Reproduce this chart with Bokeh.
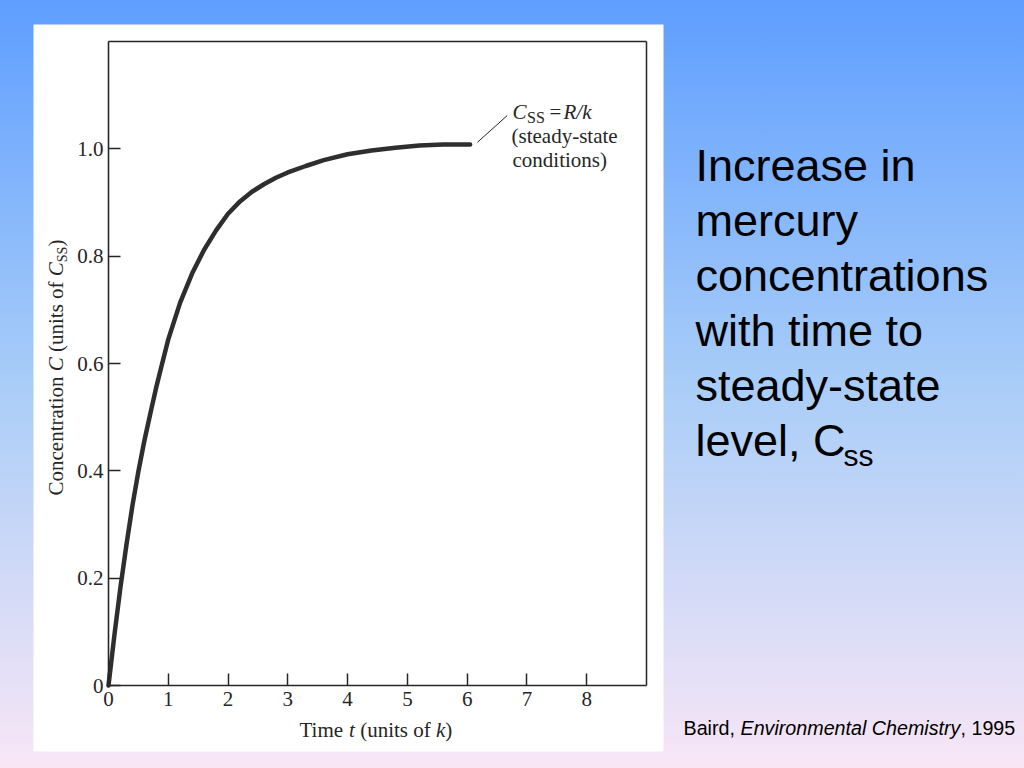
import math
from bokeh.plotting import figure
from bokeh.models import Range1d, FixedTicker, LinearAxis
from bokeh.core.properties import value
from bokeh.embed import file_html
from bokeh.resources import INLINE

# ---------------- data ----------------
time_t = [0, 0.1, 0.2, 0.3, 0.4, 0.5, 0.6, 0.7, 0.8, 0.9, 1.0, 1.2, 1.4, 1.6,
          1.8, 2.0, 2.2, 2.4, 2.6, 2.8, 3.0, 3.3, 3.6, 4.0, 4.4, 4.8, 5.2, 5.6, 6.05]
conc_c = [0, 0.095, 0.183, 0.262, 0.335, 0.399, 0.456, 0.507, 0.556, 0.601, 0.645,
          0.714, 0.768, 0.812, 0.848, 0.879, 0.902, 0.920, 0.934, 0.946, 0.956,
          0.968, 0.979, 0.990, 0.997, 1.002, 1.006, 1.008, 1.008]
x_ticks = [0, 1, 2, 3, 4, 5, 6, 7, 8]
x_tick_labels = ["0", "1", "2", "3", "4", "5", "6", "7", "8"]
y_ticks = [0, 0.2, 0.4, 0.6, 0.8, 1.0]
y_tick_labels = ["0", "0.2", "0.4", "0.6", "0.8", "1.0"]
leader_t = [6.17, 6.67]
leader_c = [1.012, 1.062]
title_lines = ["Increase in", "mercury", "concentrations", "with time to",
               "steady-state", "level, C"]
title_sub = "ss"
cite_parts = ["Baird,", "Environmental Chemistry", ", 1995"]

# ---------------- layout constants (page pixels) ----------------
W, H = 1024, 768
FX0, FX1, FY0, FY1 = 108, 646, 41, 685   # data frame of the chart
XMAX, YMAX = 9.0, 1.2
SERIF = value("Liberation Serif")
SANS = value("Liberation Sans")
INK = "#262626"
BL = 0.38   # offset between requested anchor and rendered baseline (in em)


def dx(px):
    return (px - FX0) * XMAX / (FX1 - FX0)


def dy(py):
    return (FY1 - py) * YMAX / (FY1 - FY0)


def base(b, fs):
    """page coordinate of the anchor so that the glyph baseline lands on b"""
    return b - BL * fs


p = figure(width=W, height=H, x_range=Range1d(dx(0), dx(W)),
           y_range=Range1d(dy(H), dy(0)), min_border=0,
           output_backend="svg", toolbar_location=None)
p.background_fill_alpha = 0
p.border_fill_alpha = 0
p.outline_line_color = None
p.grid.visible = False

# white panel behind the chart
p.quad(left=[dx(33)], right=[dx(663)], top=[dy(24)], bottom=[dy(751)],
       fill_color="white", line_color=None)


def style_axis(ax):
    ax.axis_line_color = INK
    ax.axis_line_width = 1.6
    ax.major_tick_line_color = INK
    ax.major_tick_line_width = 1.5
    ax.major_tick_in = 12
    ax.major_tick_out = 0
    ax.minor_tick_in = 0
    ax.minor_tick_out = 0
    ax.major_label_text_font = "Liberation Serif"
    ax.major_label_text_font_size = "21px"
    ax.major_label_text_color = INK
    ax.axis_label = None


for ax in (p.xaxis, p.yaxis):
    style_axis(ax)

p.xaxis.fixed_location = 0
p.xaxis.bounds = (0, XMAX)
p.xaxis.ticker = FixedTicker(ticks=x_ticks)
p.xaxis.major_label_overrides = dict(zip(x_ticks, x_tick_labels))
p.xaxis.major_label_standoff = 6
p.yaxis.fixed_location = 0
p.yaxis.bounds = (0, YMAX)
p.yaxis.ticker = FixedTicker(ticks=y_ticks)
p.yaxis.major_label_overrides = dict(zip(y_ticks, y_tick_labels))
p.yaxis.major_label_standoff = 5

# closing lines of the chart box (axes without ticks)
top_ax = LinearAxis(fixed_location=YMAX, bounds=(0, XMAX), ticker=FixedTicker(ticks=[]))
right_ax = LinearAxis(fixed_location=XMAX, bounds=(0, YMAX), ticker=FixedTicker(ticks=[]))
for ax in (top_ax, right_ax):
    style_axis(ax)
    ax.axis_line_width = 1.5
    ax.major_tick_in = 0
    ax.major_label_text_font_size = "0px"
p.add_layout(top_ax, "above")
p.add_layout(right_ax, "right")

p.line(time_t, conc_c, line_width=4.5, line_color="#2e2e2e",
       line_cap="round", line_join="round")
p.line(leader_t, leader_c, line_width=1, line_color=INK)

# annotation: (text, x, baseline, font px, style)
ann = [
    ("C", 512, 119, 21, "italic"),
    ("SS", 526.5, 123, 16, "normal"),
    ("=", 549, 119, 21, "normal"),
    ("R/k", 563, 119, 21, "italic"),
    ("(steady-state", 511, 143, 21, "normal"),
    ("conditions)", 512, 167, 21, "normal"),
]
for txt, px, b, fs, st in ann:
    p.text(x=[dx(px)], y=[dy(base(b, fs))], text=[txt], text_font=SERIF,
           text_font_size=f"{fs}px", text_font_style=st, text_color=INK,
           text_align="left", text_baseline="alphabetic")

# x-axis label (rich text pieces)
xl = [("Time", 299, "normal"), ("t", 348.6, "italic"),
      ("(units of", 359.7, "normal"), ("k", 435.5, "italic"), (")", 444.8, "normal")]
for txt, px, st in xl:
    p.text(x=[dx(px)], y=[dy(base(737, 21))], text=[txt], text_font=SERIF,
           text_font_size="21px", text_font_style=st, text_color=INK,
           text_align="left", text_baseline="alphabetic")

# y-axis label (rotated pieces): (text, offset along the label, style, font px, shift)
yl = [("Concentration", 0, "normal", 21, 0), ("C", 124.2, "italic", 21, 0),
      ("(units of", 143.5, "normal", 21, 0), ("C", 219.3, "italic", 21, 0),
      ("SS", 233.3, "normal", 14, 4), (")", 248.9, "normal", 21, 0)]
for txt, off, st, fs, shift in yl:
    p.text(x=[dx(base(63 + shift, fs))], y=[dy(495 - off)], text=[txt],
           angle=math.pi / 2, text_font=SERIF, text_font_size=f"{fs}px",
           text_font_style=st, text_color=INK,
           text_align="left", text_baseline="alphabetic")

# ---------------- right-hand text ----------------
for i, line in enumerate(title_lines):
    p.text(x=[dx(695)], y=[dy(base(182 + 55 * i, 45))], text=[line], text_font=SANS,
           text_font_size="45px", text_color="black",
           text_align="left", text_baseline="alphabetic")
p.text(x=[dx(843)], y=[dy(base(466, 30))], text=[title_sub], text_font=SANS,
       text_font_size="30px", text_color="black",
       text_align="left", text_baseline="alphabetic")

cite_x = [683, 740, 960]
cite_st = ["normal", "italic", "normal"]
for txt, px, st in zip(cite_parts, cite_x, cite_st):
    p.text(x=[dx(px)], y=[dy(base(735, 19.7))], text=[txt], text_font=SANS,
           text_font_size="19.7px", text_font_style=st, text_color="black",
           text_align="left", text_baseline="alphabetic")

html = file_html(p, INLINE, title="Mercury steady state")
css = ("<style>html{height:100%;background:linear-gradient(180deg,#5e9eff 0%,"
       "#a9cdf8 50%,#f8e6f6 100%) no-repeat;}body{background:transparent;}</style>")
html = html.replace("</head>", css + "</head>", 1)
open("out.html", "w").write(html)
